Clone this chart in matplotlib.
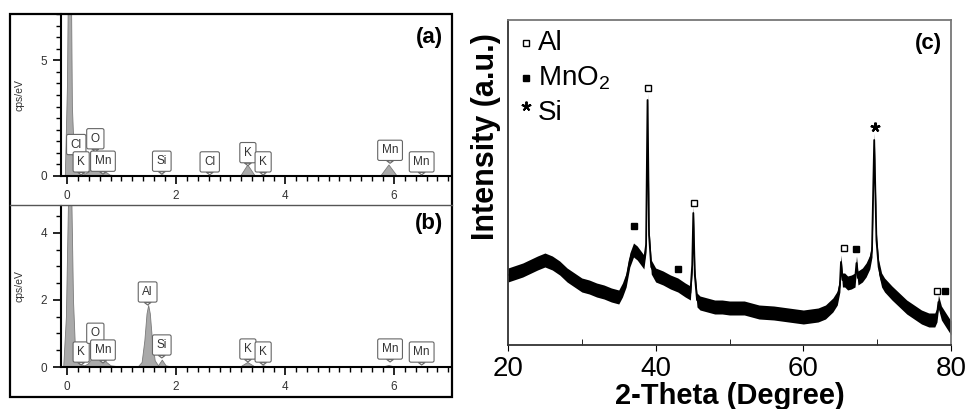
import numpy as np
import matplotlib
matplotlib.use("Agg")
import matplotlib.pyplot as plt
from matplotlib.patches import Rectangle
from matplotlib.lines import Line2D
from matplotlib.ticker import MultipleLocator

plt.rcParams['font.family'] = ['Liberation Sans', 'DejaVu Sans']
plt.rcParams['mathtext.fontset'] = 'custom'
plt.rcParams['mathtext.rm'] = 'Liberation Sans'
plt.rcParams['mathtext.it'] = 'Liberation Sans'

# ---------------- data ----------------
# EDS spectrum (a)
energy_a = [-0.10, -0.04, 0.00, 0.045, 0.09, 0.13, 0.18, 0.22, 0.27, 0.32, 0.40,
            0.46, 0.52, 0.58, 0.64, 0.70, 0.78, 0.90, 1.20, 1.65, 1.74, 1.83, 2.50,
            2.62, 2.74, 3.18, 3.31, 3.44, 3.52, 3.60, 3.68, 5.75, 5.90, 6.05, 6.40,
            6.50, 6.60, 7.05]
counts_a = [0.00, 0.00, 4.0, 16.0, 3.0, 0.6, 0.25, 0.15, 0.20, 0.10, 0.20,
            0.40, 0.55, 0.55, 0.45, 0.20, 0.06, 0.03, 0.02, 0.02, 0.07, 0.02, 0.02,
            0.05, 0.02, 0.02, 0.50, 0.04, 0.03, 0.08, 0.02, 0.02, 0.50, 0.02, 0.02,
            0.05, 0.02, 0.02]

# EDS spectrum (b)
energy_b = [-0.10, -0.07, -0.02, 0.03, 0.07, 0.11, 0.15, 0.20, 0.26, 0.32, 0.38,
            0.46, 0.53, 0.60, 0.66, 0.72, 0.80, 0.95, 1.30, 1.37, 1.42, 1.46,
            1.49, 1.52, 1.56, 1.61, 1.67, 1.74, 1.81, 1.90, 3.18, 3.31, 3.44,
            3.52, 3.60, 3.68, 5.80, 5.90, 6.00, 7.05]
counts_b = [0.00, 0.00, 1.5, 6.0, 6.0, 2.0, 0.4, 0.12, 0.08, 0.05, 0.10,
            0.28, 0.35, 0.35, 0.30, 0.15, 0.05, 0.02, 0.02, 0.15, 0.80, 1.60,
            1.85, 1.60, 0.80, 0.20, 0.05, 0.22, 0.05, 0.02, 0.02, 0.15, 0.02,
            0.02, 0.05, 0.02, 0.02, 0.06, 0.02, 0.02]

# EDS peak labels: element, energy (keV), pointer height
tags_a_el = ['Cl', 'K', 'O', 'Mn', 'Si', 'Cl', 'K', 'K', 'Mn', 'Mn']
tags_a_e = [0.17, 0.26, 0.52, 0.66, 1.74, 2.62, 3.32, 3.60, 5.93, 6.51]
tags_a_y = [0.80, 0.05, 1.05, 0.08, 0.08, 0.05, 0.45, 0.05, 0.55, 0.05]

tags_b_el = ['K', 'O', 'Mn', 'Al', 'Si', 'K', 'K', 'Mn', 'Mn']
tags_b_e = [0.26, 0.52, 0.66, 1.48, 1.74, 3.32, 3.60, 5.93, 6.51]
tags_b_y = [0.06, 0.62, 0.12, 1.85, 0.27, 0.15, 0.06, 0.15, 0.06]

# XRD pattern (c)
two_theta = [20, 22, 24, 25, 26, 27, 28, 29, 30, 31, 32, 33, 34, 35, 35.5, 36, 36.5,
             37, 37.5, 38, 38.4, 38.7, 38.9, 39.1, 39.4, 40, 41, 42, 43, 44, 44.7,
             44.95, 45.1, 45.3, 45.6, 46, 47, 48, 49, 50, 52, 54, 56, 58, 60, 62, 63,
             64, 64.6, 64.95, 65.1, 65.3, 65.6, 66, 66.5, 67.0, 67.2, 67.4, 68, 68.5,
             69, 69.3, 69.6, 69.9, 70.2, 70.6, 71, 72, 73, 74, 75, 76, 77, 77.8,
             78.1, 78.3, 78.7, 79.3, 80]
intensity = [70, 75, 82, 85, 82, 77, 70, 65, 60, 58, 55, 53, 50, 48, 55, 65, 85,
             95, 92, 87, 83, 100, 245, 110, 78, 70, 67, 63, 60, 55, 52,
             80, 132, 70, 45, 42, 40, 38, 38, 37, 37, 33, 32, 30, 28, 30, 33,
             40, 47, 60, 83, 65, 65, 62, 63, 65, 82, 67, 70, 75,
             83, 95, 205, 105, 78, 65, 60, 52, 45, 38, 33, 28, 25, 25,
             30, 43, 32, 25, 17]

al_theta = [38.9, 45.2, 65.5, 78.1]
al_y = [257, 142, 97, 54]
mno2_theta = [37.0, 43.0, 67.2, 79.2]
mno2_y = [119, 76, 96, 54]
si_theta = [69.7]
si_y = [218]

# ---------------- figure ----------------
W, H = 968, 409
fig = plt.figure(figsize=(W / 100, H / 100), dpi=100)


def fr(x0, y0, x1, y1):
    return [x0 / W, 1 - y1 / H, (x1 - x0) / W, (y1 - y0) / H]


axa = fig.add_axes(fr(61, 14, 450, 176))
axb = fig.add_axes(fr(61, 206, 450, 367))
axc = fig.add_axes(fr(508, 20, 951, 345))

# outer frame for EDS panels
fig.add_artist(Rectangle((10 / W, 1 - 397 / H), 442 / W, 383 / H,
                         transform=fig.transFigure, fill=False, ec='black', lw=1.6))
fig.add_artist(Line2D([10 / W, 452 / W], [1 - 205 / H, 1 - 205 / H],
                      transform=fig.transFigure, color='#555555', lw=1.0))


def style_eds(ax, e, c, ymax, ymajor, tags_el, tags_e, tags_y):
    ax.fill_between(e, c, 0, facecolor='#a9a9a9', edgecolor='#7a7a7a', lw=0.6)
    ax.set_xlim(-0.11, 7.03)
    ax.set_ylim(0, ymax)
    ax.set_facecolor('none')
    for s in ['top', 'right']:
        ax.spines[s].set_visible(False)
    for s in ['left', 'bottom']:
        ax.spines[s].set_color('black')
        ax.spines[s].set_linewidth(1.5)
    ax.xaxis.set_major_locator(MultipleLocator(2))
    ax.xaxis.set_minor_locator(MultipleLocator(0.2))
    ax.yaxis.set_major_locator(MultipleLocator(ymajor))
    ax.yaxis.set_minor_locator(MultipleLocator(0.5))
    ax.tick_params(which='major', direction='out', length=6, width=1.2,
                   labelsize=8.5, colors='black', labelcolor='#333333', pad=4)
    ax.tick_params(which='minor', direction='out', length=3.5, width=1.0)
    ax.set_ylabel('cps/eV', fontsize=7.5, color='#333333')
    for el, x, y in zip(tags_el, tags_e, tags_y):
        ax.annotate(el, xy=(x, y), xytext=(0, 5), textcoords='offset points',
                    ha='center', va='bottom', fontsize=8.5, color='#333333',
                    bbox=dict(boxstyle='round,pad=0.35,rounding_size=0.15',
                              fc='white', ec='#666666', lw=0.8),
                    arrowprops=dict(arrowstyle='wedge,tail_width=0.55', fc='white',
                                    ec='#666666', lw=0.8, shrinkA=0, shrinkB=0),
                    annotation_clip=False)


style_eds(axa, energy_a, counts_a, 7.0, 5, tags_a_el, tags_a_e, tags_a_y)
style_eds(axb, energy_b, counts_b, 4.8, 2, tags_b_el, tags_b_e, tags_b_y)
axa.yaxis.set_label_coords(-0.095, 0.5)
axb.yaxis.set_label_coords(-0.095, 0.5)

fig.text(443 / W, 1 - 37 / H, '(a)', ha='right', va='center', fontsize=16, fontweight='bold')
fig.text(443 / W, 1 - 223 / H, '(b)', ha='right', va='center', fontsize=16, fontweight='bold')

# ---------------- XRD ----------------
tt = np.array(two_theta, dtype=float)
ii = np.array(intensity, dtype=float)
axc.fill_between(tt, ii - 7, ii + 7, color='black', lw=0)
axc.plot(tt, ii, color='black', lw=1.3)
axc.set_xlim(20, 80)
axc.set_ylim(0, 325)
axc.set_yticks([])
axc.xaxis.set_major_locator(MultipleLocator(20))
axc.xaxis.set_minor_locator(MultipleLocator(10))
axc.tick_params(axis='x', which='major', direction='out', length=4, labelsize=20, pad=4)
axc.tick_params(axis='x', which='minor', direction='in', length=4)
for s in ['left', 'bottom']:
    axc.spines[s].set_color('#333333')
    axc.spines[s].set_linewidth(1.3)
for s in ['top', 'right']:
    axc.spines[s].set_color('#777777')
    axc.spines[s].set_linewidth(1.3)
axc.set_xlabel('2-Theta (Degree)', fontsize=21, fontweight='bold', labelpad=0)
fig.text(486 / W, 1 - 137 / H, 'Intensity (a.u.)', rotation=90, ha='center', va='center',
         fontsize=22, fontweight='bold')

axc.plot(al_theta, al_y, linestyle='none', marker='s', ms=5, mfc='white', mec='black', mew=1.0)
axc.plot(mno2_theta, mno2_y, linestyle='none', marker='s', ms=5, mfc='black', mec='black')
axc.plot(si_theta, si_y, linestyle='none', marker=(5, 2, 0), ms=7, mec='black', mew=1.6)

# legend
tr = axc.transAxes
axc.plot([0.041], [0.929], transform=tr, marker='s', ms=5, mfc='white', mec='black', mew=1.0)
axc.plot([0.041], [0.822], transform=tr, marker='s', ms=5, mfc='black', mec='black')
axc.plot([0.041], [0.735], transform=tr, marker=(5, 2, 0), ms=7, mec='black', mew=1.4)
axc.text(0.068, 0.929, 'Al', transform=tr, fontsize=20, va='center', ha='left')
axc.text(0.068, 0.822, 'MnO$_2$', transform=tr, fontsize=20, va='center', ha='left')
axc.text(0.068, 0.715, 'Si', transform=tr, fontsize=20, va='center', ha='left')

fig.text(942 / W, 1 - 43 / H, '(c)', ha='right', va='center', fontsize=16, fontweight='bold')

fig.savefig('out.png', dpi=100)
